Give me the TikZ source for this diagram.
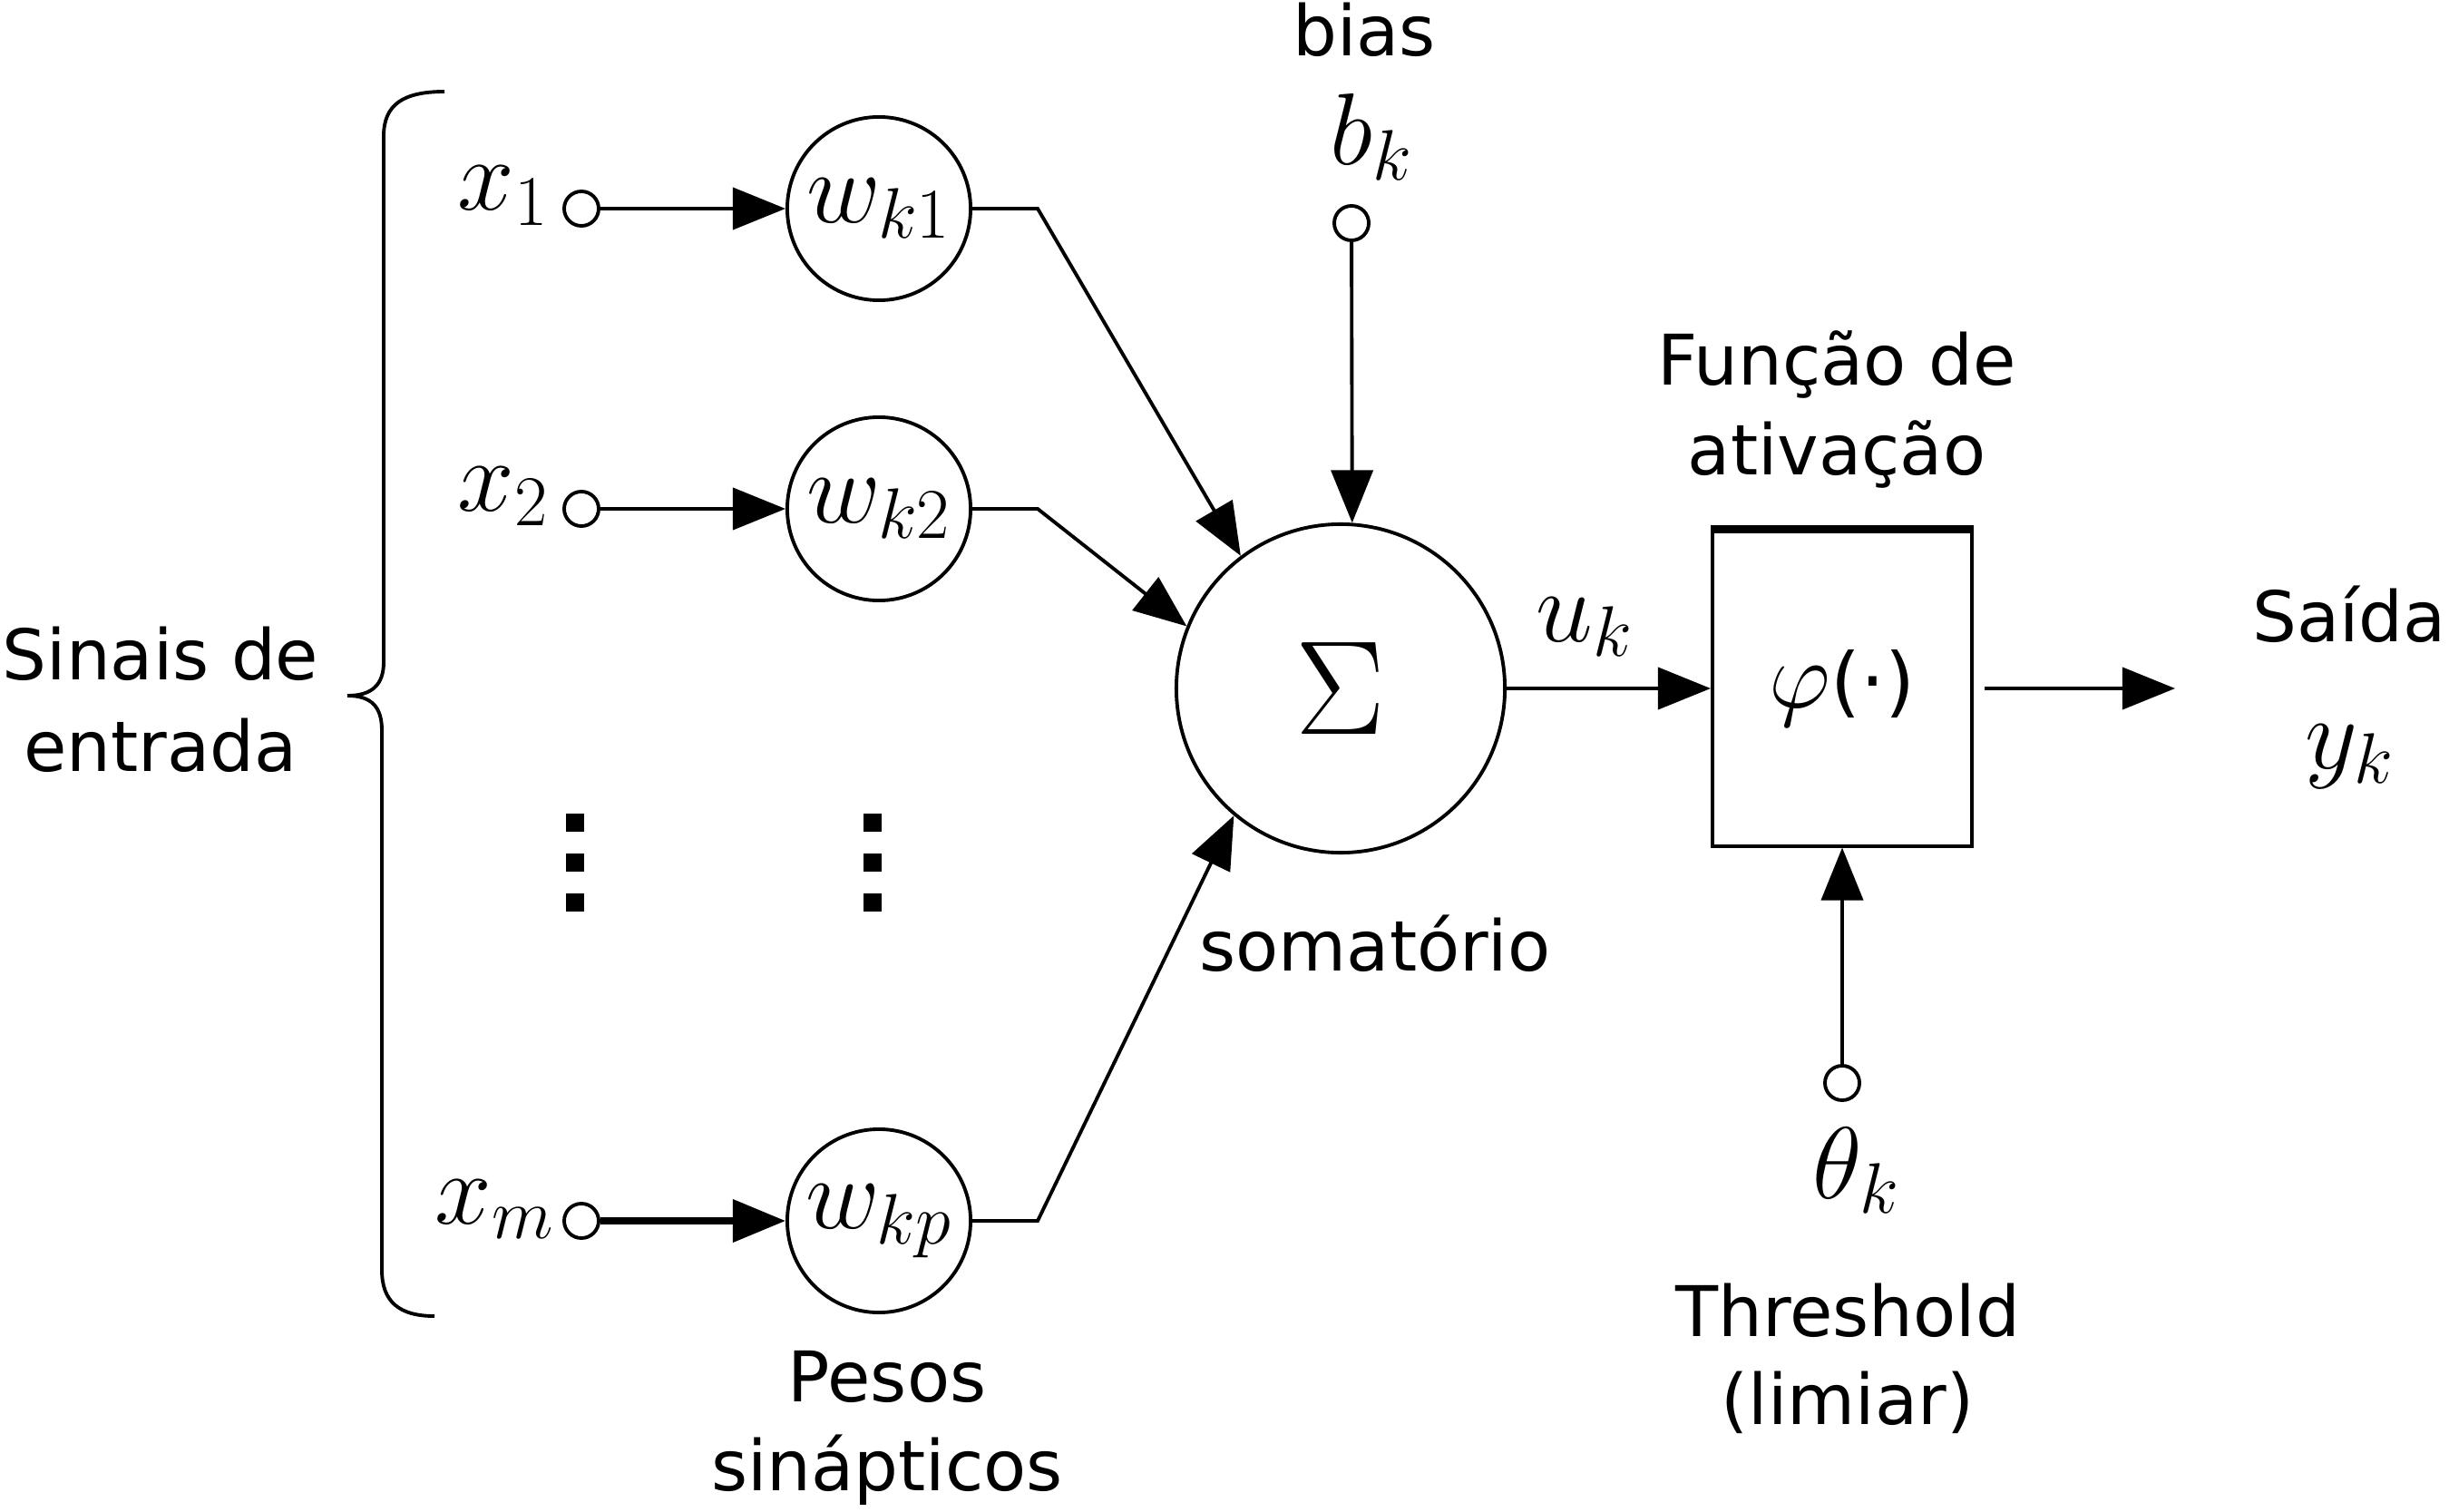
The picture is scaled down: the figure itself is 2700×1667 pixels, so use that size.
\RequirePackage{fix-cm}
\documentclass[tikz,border=0pt]{standalone}
\usepackage[no-math]{fontspec}
\setmainfont{DejaVu Sans}
\usetikzlibrary{arrows.meta}
\begin{document}
\begin{tikzpicture}[x=0.01cm,y=-0.01cm,
  line width=1.1pt,
  lbl/.style={font=\fontsize{21.9}{26}\selectfont, inner sep=0, anchor=base},
  mth/.style={font=\fontsize{32}{38}\selectfont, inner sep=0, anchor=base west},
  wnode/.style={circle, draw, minimum size=2.02cm, inner sep=0, font=\fontsize{32}{38}\selectfont},
  port/.style={circle, draw, minimum size=0.38cm, inner sep=0},
  arr/.style={-{Triangle[length=5.8mm,width=4.6mm]}},
  dotsq/.style={fill=black, minimum size=0.2cm, inner sep=0}
]
\useasboundingbox (0,0) rectangle (2700,1667);

% brace
\draw (490,101) .. controls (445,101) and (423,115) .. (423,150) -- (423,730)
  .. controls (423,755) and (410,767) .. (383,767)
  .. controls (410,767) and (421,780) .. (421,805) -- (421,1400)
  .. controls (421,1435) and (440,1451) .. (479,1451);
\node[lbl] (sinais) at (177,749) {Sinais de};
\node[lbl] (entrada) at (177,850) {entrada};

% inputs
\node[mth] (x1) at (503,232) {$x_1$};
\node[mth] (x2) at (503,563) {$x_2$};
\node[mth] (xm) at (478,1349) {$x_m$};
\node[port] (p1) at (641,230) {};
\node[port] (p2) at (641,561) {};
\node[port] (pm) at (641,1346) {};

% weights
\node[wnode] (wk1) at (969,230) {$w_{k1}$};
\node[wnode] (wk2) at (969,561) {$w_{k2}$};
\node[wnode] (wkp) at (969,1346) {$w_{kp}$};

\draw[arr] (p1) -- (wk1);
\draw[arr] (p2) -- (wk2);
\draw[arr, line width=2pt] (pm) -- (wkp);

% dots
\node[dotsq] (d1) at (634,907) {};
\node[dotsq] (d2) at (634,951) {};
\node[dotsq] (d3) at (634,995) {};
\node[dotsq] (d4) at (962,907) {};
\node[dotsq] (d5) at (962,951) {};
\node[dotsq] (d6) at (962,995) {};

\node[lbl] (pesos) at (978,1545) {Pesos};
\node[lbl] (sinap) at (978,1643) {sinápticos};

% summation
\node[circle, draw, minimum size=3.62cm, inner sep=0, font=\fontsize{42}{50}\selectfont] (sum) at (1478,759) {$\Sigma$};
\node[lbl] (somat) at (1516,1070) {somatório};

\coordinate (b1) at (1144,230);
\coordinate (b2) at (1144,561);
\coordinate (bp) at (1144,1346);
\draw[arr] (wk1) -- (b1) -- (sum.127);
\draw[arr] (wk2) -- (b2) -- (sum.158);
\draw[arr] (wkp) -- (bp) -- (sum.230);

% bias
\node[lbl] (bias) at (1504,62) {bias};
\node[mth] (bk) at (1465,182) {$b_k$};
\node[port] (pb) at (1490,246) {};
\draw[arr] (pb) -- (sum.86);

% activation
\node[mth] (uk) at (1692,707) {$u_k$};
\node[draw, minimum width=2.86cm, minimum height=3.47cm, inner sep=0,
      font=\fontsize{24}{29}\selectfont] (act) at (2031,759) {{\fontsize{30}{36}\selectfont$\varphi$}(·)};
\draw[line width=2.4pt] (act.north west) -- (act.north east);
\draw[arr] (sum) -- (act);
\node[lbl] (func) at (2025,425) {Função de};
\node[lbl] (ativ) at (2025,523) {ativação};

% output
\coordinate (out) at (2398,759);
\draw[arr, shorten <=0.12cm] (act.east) -- (out);
\node[lbl] (saida) at (2590,707) {Saída};
\node[mth] (yk) at (2540,847) {$y_k$};

% threshold
\node[port] (pt) at (2031,1194) {};
\draw[arr] (pt) -- (act);
\node[mth] (thk) at (1997,1321) {$\theta_k$};
\node[lbl] (thr) at (2037,1473) {Threshold};
\node[lbl] (lim) at (2037,1570) {(limiar)};
\end{tikzpicture}
\end{document}
